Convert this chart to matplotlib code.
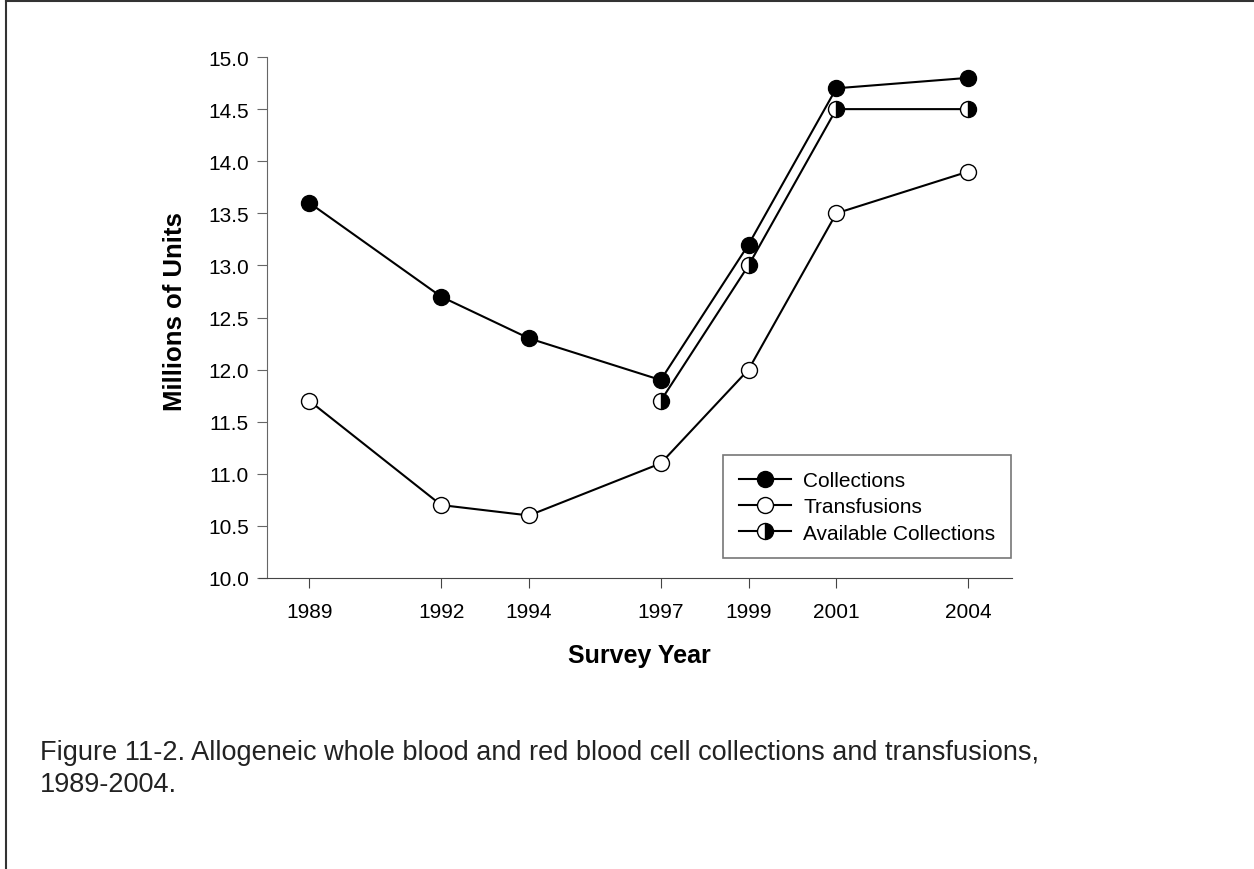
import numpy as np
import matplotlib
matplotlib.use("Agg")
import matplotlib.pyplot as plt
from matplotlib.lines import Line2D
from matplotlib import font_manager

plt.rcParams['font.family'] = ['Liberation Sans', 'DejaVu Sans']

years = [1989, 1992, 1994, 1997, 1999, 2001, 2004]
collections = [13.6, 12.7, 12.3, 11.9, 13.2, 14.7, 14.8]
transfusions = [11.7, 10.7, 10.6, 11.1, 12.0, 13.5, 13.9]
avail_years = [1997, 1999, 2001, 2004]
available = [11.7, 13.0, 14.5, 14.5]
yticks = [10.0, 10.5, 11.0, 11.5, 12.0, 12.5, 13.0, 13.5, 14.0, 14.5, 15.0]

fig = plt.figure(figsize=(12.54, 8.7), dpi=100)
ax = fig.add_axes([0.2065, 0.3345, 0.6005, 0.5988])

ms = 11.5
lw = 1.5
ax.plot(years, collections, '-o', color='black', lw=lw, ms=ms,
        mfc='black', mec='black', label='Collections', clip_on=False, zorder=3)
ax.plot(years, transfusions, '-o', color='black', lw=lw, ms=ms,
        mfc='white', mec='black', mew=1.0, label='Transfusions', clip_on=False, zorder=3)
ax.plot(avail_years, available, '-o', color='black', lw=lw, ms=ms,
        fillstyle='right', mfc='black', mfcalt='white', mec='black',
        label='Available Collections', clip_on=False, zorder=3)

ax.set_xlim(1987.85, 2005.0)
ax.set_ylim(10, 15)
ax.set_xticks(years)
ax.set_yticks(yticks)
ax.set_yticklabels(['%.1f' % v for v in yticks])

gc = '#666666'
for s in ['top', 'right']:
    ax.spines[s].set_visible(False)
ax.spines['left'].set_position(('data', 1988.03))
ax.spines['left'].set_color(gc)
ax.spines['bottom'].set_color('#444444')
ax.tick_params(axis='y', direction='out', length=7, color=gc, labelsize=15, pad=6)
ax.tick_params(axis='x', direction='out', length=7, color='#444444', labelsize=15, pad=10)

ax.set_xlabel('Survey Year', fontsize=18, fontweight='bold')
ax.set_ylabel('Millions of Units', fontsize=18.5, fontweight='bold')
ax.xaxis.set_label_coords(0.505, -0.125)
ax.yaxis.set_label_coords(-0.096, 0.514)

leg = ax.legend(loc='lower right', bbox_to_anchor=(0.9987, 0.038), borderaxespad=0,
                fontsize=15, frameon=True, fancybox=False, edgecolor='#555555',
                borderpad=0.75, handlelength=2.5, handletextpad=0.6, labelspacing=0.35)
leg.get_frame().set_linewidth(1.2)

# condensed caption font if available
try:
    font_manager.findfont('Liberation Sans Narrow', fallback_to_default=False)
    cap_family, cap_size = ['Liberation Sans Narrow', 'Liberation Sans'], 23
except Exception:
    cap_family, cap_size = ['Liberation Sans', 'DejaVu Sans'], 19.5

fig.text(0.032, 0.083, 'Figure 11-2. Allogeneic whole blood and red blood cell collections and transfusions,\n1989-2004.',
         fontsize=cap_size, family=cap_family, color='#222222',
         va='bottom', ha='left', linespacing=1.3)

# partial page frame
fig.add_artist(Line2D([0.0048, 0.0048], [0.0, 0.9975], color='#333333', lw=1.5))
fig.add_artist(Line2D([0.0048, 1.0], [0.9975, 0.9975], color='#333333', lw=1.5))

fig.savefig('out.png', dpi=100)
